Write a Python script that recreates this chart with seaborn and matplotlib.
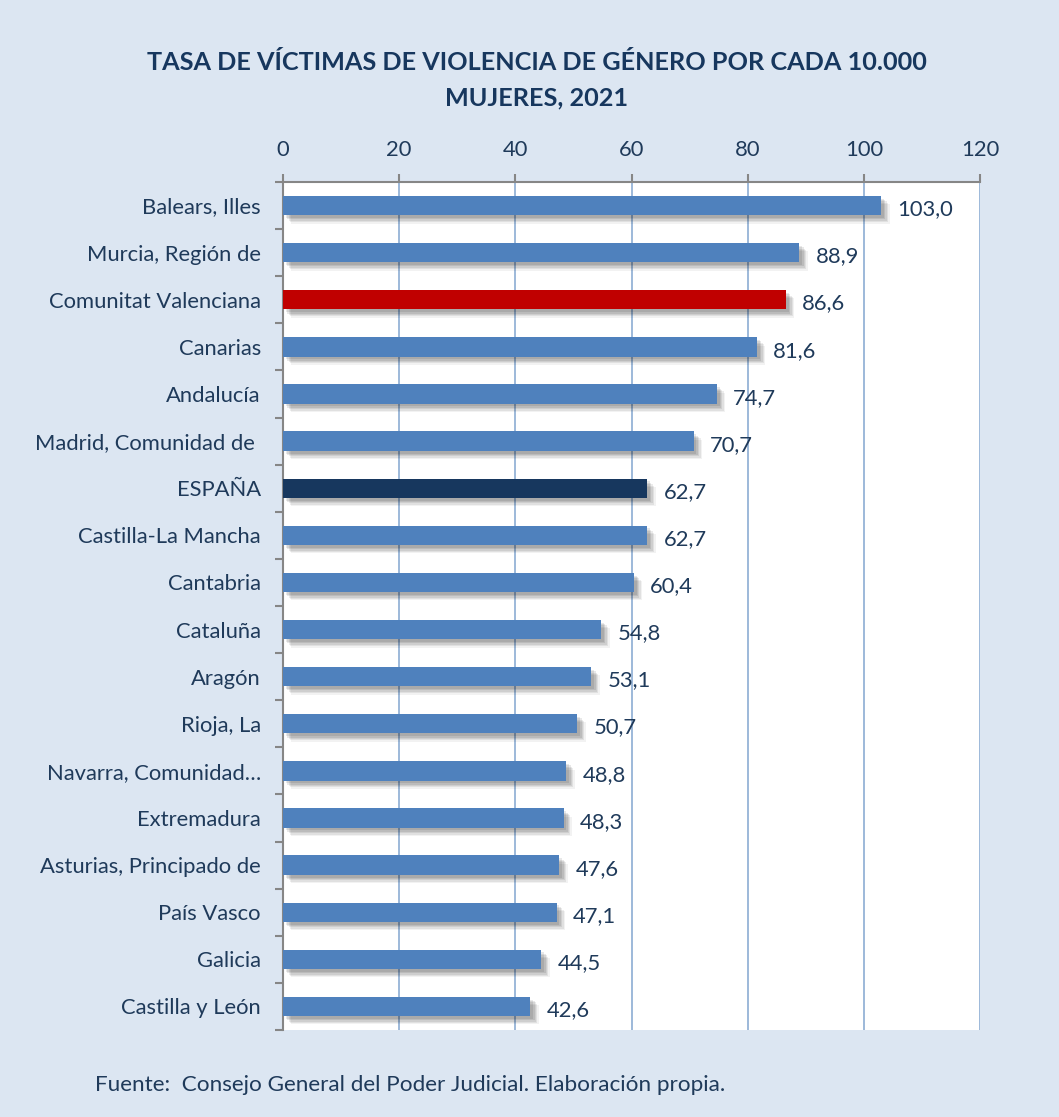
import matplotlib
matplotlib.use("Agg")
import matplotlib.pyplot as plt
import matplotlib.patheffects as pe
import seaborn as sns
import pandas as pd

regions = ["Balears, Illes", "Murcia, Región de", "Comunitat Valenciana", "Canarias",
           "Andalucía", "Madrid, Comunidad de ", "ESPAÑA", "Castilla-La Mancha",
           "Cantabria", "Cataluña", "Aragón", "Rioja, La", "Navarra, Comunidad…",
           "Extremadura", "Asturias, Principado de", "País Vasco", "Galicia",
           "Castilla y León"]
values = [103.0, 88.9, 86.6, 81.6, 74.7, 70.7, 62.7, 62.7, 60.4, 54.8, 53.1,
          50.7, 48.8, 48.3, 47.6, 47.1, 44.5, 42.6]
x_ticks = [0, 20, 40, 60, 80, 100, 120]

BLUE = "#4F81BD"
RED = "#C00000"
NAVY = "#17375E"
TEXT = "#1F3A5A"
colors = {r: BLUE for r in regions}
colors["Comunitat Valenciana"] = RED
colors["ESPAÑA"] = NAVY

df = pd.DataFrame({"region": regions, "value": values})

sns.set_theme(style="white")
plt.rcParams["font.family"] = ["Lato", "DejaVu Sans"]
FS = 15.8

fig = plt.figure(figsize=(10.59, 11.17), dpi=100)
fig.patch.set_facecolor("#DCE6F2")
ax = fig.add_axes([283/1059, 1 - 1030/1117, (980-283)/1059, (1030-182)/1117])
ax.set_facecolor("white")

sns.barplot(data=df, y="region", x="value", hue="region", palette=colors,
            order=regions, width=0.41, legend=False, ax=ax, saturation=1,
            linewidth=0, edgecolor="none", zorder=3)

shadows = [pe.SimplePatchShadow(offset=(o, -o), shadow_rgbFace="#000000", alpha=a)
           for o, a in ((6, 0.05), (5, 0.07), (4, 0.08), (3, 0.09), (2, 0.09))]
for p in ax.patches:
    p.set_path_effects(shadows + [pe.Normal()])

for i, v in enumerate(values):
    ax.text(v + 2.8, i + 0.08, f"{v:.1f}".replace(".", ","), va="center", ha="left",
            fontsize=FS, color=TEXT)

ax.set_xlim(0, 120)
ax.set_ylim(len(regions) - 0.5, -0.5)
ax.xaxis.tick_top()
ax.set_xticks(x_ticks)
ax.set_xticklabels([str(t) for t in x_ticks], fontsize=FS, color=TEXT)
ax.tick_params(axis="x", which="major", length=6, width=1.5, color="#868686", pad=10, top=True, bottom=False)
ax.set_yticks(range(len(regions)))
ax.set_yticklabels(regions, fontsize=FS, color=TEXT)
ax.tick_params(axis="y", which="major", length=0, pad=16)
ax.set_yticks([i - 0.5 for i in range(len(regions) + 1)], minor=True)
ax.tick_params(axis="y", which="minor", length=6, width=1.5, color="#868686", left=True)
ax.grid(axis="x", color="#95B3D7", linewidth=1.3, zorder=0)
ax.set_axisbelow(True)
ax.set_xlabel("")
ax.set_ylabel("")
for s in ["right", "bottom"]:
    ax.spines[s].set_visible(False)
for s in ["top", "left"]:
    ax.spines[s].set_color("#868686")
    ax.spines[s].set_linewidth(1.5)

fig.text(537/1059, 1 - 63/1117, "TASA DE VÍCTIMAS DE VIOLENCIA DE GÉNERO POR CADA 10.000",
         ha="center", va="center", fontsize=18.2, fontweight="bold", color=NAVY)
fig.text(537/1059, 1 - 98/1117, "MUJERES, 2021",
         ha="center", va="center", fontsize=18.2, fontweight="bold", color=NAVY)
fig.text(95/1059, 1 - 1085/1117, "Fuente:  Consejo General del Poder Judicial. Elaboración propia.",
         ha="left", va="center", fontsize=16.2, color=TEXT)

fig.savefig("out.png", dpi=100, facecolor=fig.get_facecolor())
